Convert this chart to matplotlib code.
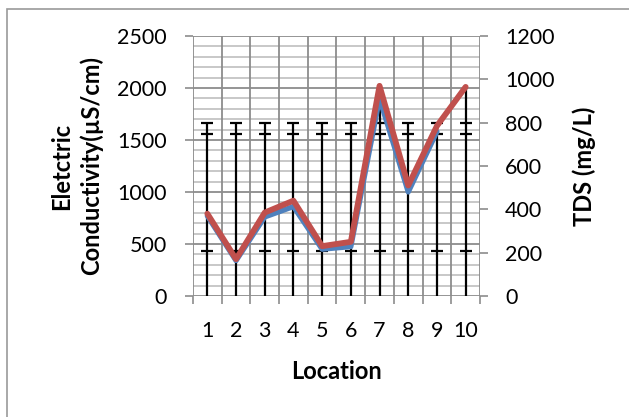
import matplotlib.pyplot as plt
from matplotlib.patches import Rectangle
import numpy as np

plt.rcParams["font.family"] = ["Lato", "DejaVu Sans"]

locations = [1, 2, 3, 4, 5, 6, 7, 8, 9, 10]
ec_values = [770, 340, 760, 860, 450, 475, 1900, 1000, 1580, np.nan]
tds_values = [380, 170, 385, 440, 230, 250, 970, 510, 785, 965]

# error bar levels (left axis units), same for every location
err_top = 1665
err_caps = [1665, 1560, 430]

GRID_DARK = "#8c8c8c"
GRID_LIGHT = "#c4c4c4"
RED = "#C0504D"
BLUE = "#4F81BD"
TICK_FS = 15.5
LABEL_FS = 17

fig = plt.figure(figsize=(6.29, 4.17), dpi=100)
fig.patch.set_facecolor("white")
fig.patches.append(Rectangle((7 / 629, -0.1), 1.2, 1 - 9 / 417 + 0.1, transform=fig.transFigure,
                             fill=False, edgecolor="#9a9a9a", linewidth=1.2))

ax = fig.add_axes([0.3068, 0.2902, 0.4563, 0.6235])
ax2 = ax.twinx()

x = np.array(locations)
ax.set_xlim(0.5, 10.5)
ax.set_ylim(0, 2500)
ax2.set_ylim(0, 1200)

# gridlines
for v in np.arange(0, 2501, 100):
    major = v % 500 == 0
    ax.axhline(v, color=GRID_DARK if major else GRID_LIGHT, lw=1.3, zorder=0)
for b in np.arange(0.5, 10.6, 1):
    ax.axvline(b, color=GRID_DARK, lw=1.3, zorder=0)

# error bars / drop lines
tds_left = np.array(tds_values) * 2500 / 1200
tops = np.maximum(err_top, tds_left)
ax.vlines(x, 0, tops, color="black", lw=1.6, zorder=2)
for c in err_caps:
    ax.hlines([c] * len(x), x - 0.21, x + 0.21, color="black", lw=1.6, zorder=2)

ax.plot(x, ec_values, color=BLUE, lw=3.8, solid_capstyle="round", solid_joinstyle="round", zorder=3)
ax2.plot(x, tds_values, color=RED, lw=4.2, solid_capstyle="round", solid_joinstyle="round", zorder=4)

ax.set_xticks(np.arange(0.5, 10.6, 1))
ax.set_xticklabels([])
ax.set_xticks(x, minor=True)
ax.set_xticklabels([str(v) for v in locations], minor=True, fontsize=TICK_FS)
ax.tick_params(axis="x", which="major", direction="out", length=6, color=GRID_DARK, width=1.2)
ax.tick_params(axis="x", which="minor", length=0, pad=18)

ax.set_yticks(np.arange(0, 2501, 500))
ax.tick_params(axis="y", direction="out", length=6, color=GRID_DARK, width=1.2, labelsize=TICK_FS, pad=13)
ax2.set_yticks(np.arange(0, 1201, 200))
ax2.tick_params(axis="y", direction="out", length=6, color=GRID_DARK, width=1.2, labelsize=TICK_FS, pad=12)

for a in (ax, ax2):
    for s in a.spines.values():
        s.set_visible(False)
ax.set_facecolor("white")
ax2.patch.set_visible(False)

ax.set_ylabel("Eletctric\nConductivity(µS/cm)", fontsize=LABEL_FS, fontweight="bold", labelpad=10,
              linespacing=1.3)
ax2.set_ylabel("TDS (mg/L)", fontsize=LABEL_FS, fontweight="bold", labelpad=13)
ax.set_xlabel("Location", fontsize=LABEL_FS, fontweight="bold", labelpad=14)

fig.savefig("out.png", dpi=100)
